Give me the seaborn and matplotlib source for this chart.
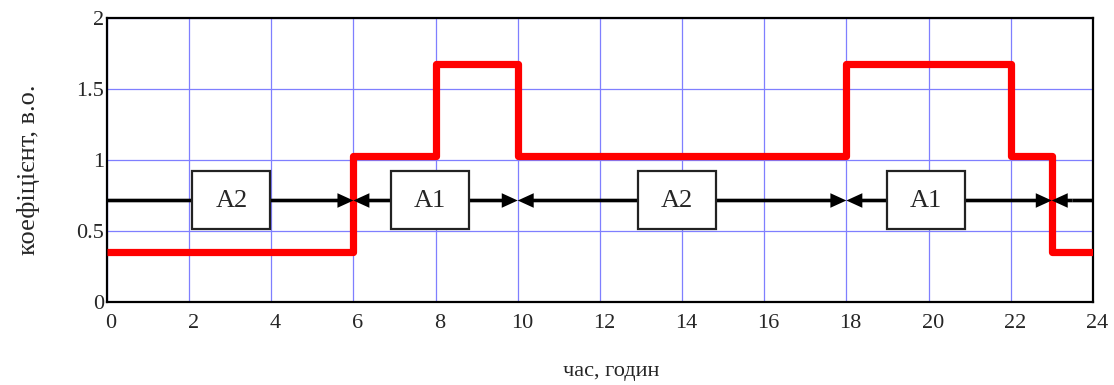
import numpy as np
import pandas as pd
import seaborn as sns
import matplotlib.pyplot as plt
import matplotlib.transforms as mtransforms
from matplotlib.patches import Rectangle

# load coefficient over the day (step changes at these hours)
hours = [0, 6, 8, 10, 18, 22, 23, 24]
coef = [0.35, 1.03, 1.68, 1.03, 1.68, 1.03, 0.35, 0.35]

# tariff zones shown with arrows
zone_edges = [0, 6, 10, 18, 23, 24]
zone_names = ['A2', 'A1', 'A2', 'A1', '']
box_centers = [3.03, 7.87, 13.87, 19.93]
arrow_y = 0.715

sns.set_style('white')
plt.rcParams['font.family'] = ['Liberation Serif', 'DejaVu Serif']
plt.rcParams['mathtext.fontset'] = 'stix'

fig = plt.figure(figsize=(11.14, 3.85), dpi=100)
ax = fig.add_axes([0.096, 0.2156, 0.885, 0.7374])

data = pd.DataFrame({'hour': hours, 'coef': coef})
sns.lineplot(data=data, x='hour', y='coef', drawstyle='steps-post',
             color='#ff0000', linewidth=5.2, ax=ax, zorder=3,
             solid_joinstyle='round', solid_capstyle='butt')

arrow_kw = dict(width=2.6, headwidth=10.5, headlength=11.5, shrink=0,
                facecolor='black', edgecolor='none')


def arrow(x_from, x_to, head=True):
    props = dict(arrow_kw)
    if not head:
        props['headwidth'] = props['width']
        props['headlength'] = 0.01
    ax.annotate('', xy=(x_to, arrow_y), xytext=(x_from, arrow_y),
                arrowprops=props, zorder=4)


# arrows between zone boundaries
n = len(zone_names)
for i in range(n):
    x0, x1 = zone_edges[i], zone_edges[i + 1]
    mid = (x0 + x1) / 2
    arrow(mid, x0, head=(i != 0))
    arrow(mid, x1, head=(i != n - 1))

for cx, name in zip(box_centers, zone_names):
    ax.add_patch(Rectangle((cx - 0.95, 0.515), 1.9, 0.405, facecolor='white',
                           edgecolor='#222222', lw=1.6, zorder=5))
    ax.text(cx, arrow_y, name, ha='center', va='center', fontsize=19, zorder=6)

ax.set_xlim(0, 24)
ax.set_ylim(0, 2)
ax.set_xticks(np.arange(0, 25, 2))
ax.set_yticks([0, 0.5, 1, 1.5, 2])
ax.set_yticklabels(['0', '0.5', '1', '1.5', '2'])
ax.grid(True, color='#7f7fff', linewidth=0.9)
ax.set_axisbelow(True)
ax.tick_params(axis='both', length=0, labelsize=16)
ax.tick_params(axis='x', pad=9)
ax.tick_params(axis='y', pad=2)
shift = mtransforms.ScaledTranslation(3 / 72, 0, fig.dpi_scale_trans)
for lab in ax.get_xticklabels():
    lab.set_transform(lab.get_transform() + shift)
for s in ax.spines.values():
    s.set_color('black')
    s.set_linewidth(1.6)

ax.set_xlabel('час, годин', fontsize=16, va='center')
ax.xaxis.set_label_coords(0.511, -0.246)
ax.set_ylabel('коефіцієнт, в.о.', fontsize=19, va='center')
ax.yaxis.set_label_coords(-0.08, 0.465)

fig.savefig('out.png', dpi=100)
